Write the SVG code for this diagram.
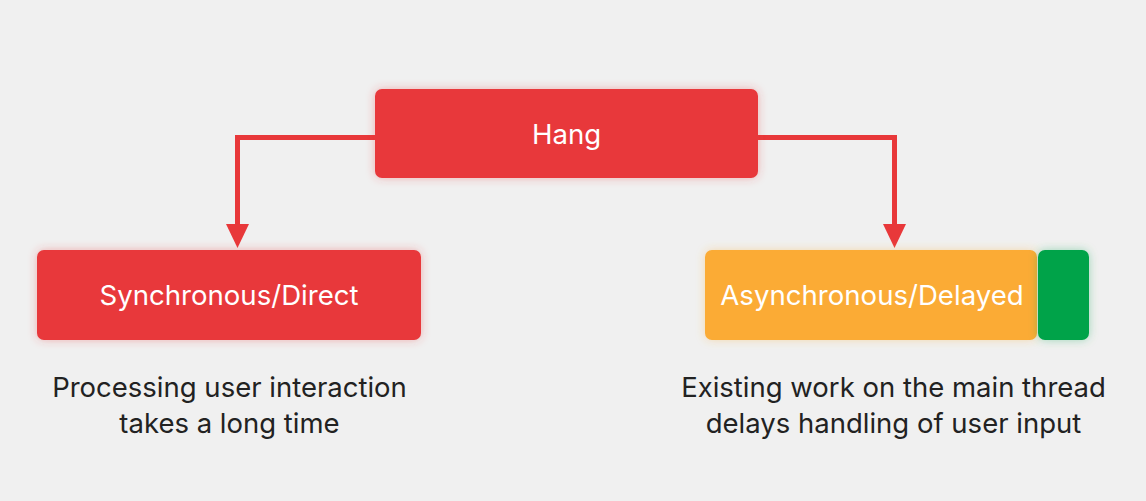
<svg xmlns="http://www.w3.org/2000/svg" width="1146" height="501" viewBox="0 0 1146 501">
  <defs>
    <filter id="glowRed" x="-20%" y="-40%" width="140%" height="180%">
      <feGaussianBlur in="SourceAlpha" stdDeviation="5" result="b"/>
      <feFlood flood-color="#e8383a" flood-opacity="0.35"/>
      <feComposite in2="b" operator="in" result="s"/>
      <feMerge><feMergeNode in="s"/><feMergeNode in="SourceGraphic"/></feMerge>
    </filter>
    <filter id="glowOrange" x="-20%" y="-40%" width="140%" height="180%">
      <feGaussianBlur in="SourceAlpha" stdDeviation="5" result="b"/>
      <feFlood flood-color="#fbab35" flood-opacity="0.35"/>
      <feComposite in2="b" operator="in" result="s"/>
      <feMerge><feMergeNode in="s"/><feMergeNode in="SourceGraphic"/></feMerge>
    </filter>
    <filter id="glowGreen" x="-60%" y="-40%" width="220%" height="180%">
      <feGaussianBlur in="SourceAlpha" stdDeviation="5" result="b"/>
      <feFlood flood-color="#00a34a" flood-opacity="0.35"/>
      <feComposite in2="b" operator="in" result="s"/>
      <feMerge><feMergeNode in="s"/><feMergeNode in="SourceGraphic"/></feMerge>
    </filter>
  </defs>
  <style>
    .lbl { font-family: Inter, "Liberation Sans", sans-serif; font-size: 27.6px; fill: #ffffff; text-anchor: middle; }
    .desc { font-family: Inter, "Liberation Sans", sans-serif; font-size: 27.5px; fill: #222222; text-anchor: middle; }
    .conn { fill: none; stroke: #e8383a; stroke-width: 5; }
    .head { fill: #e8383a; }
  </style>
  <rect width="1146" height="501" fill="#f0f0f0"/>
  <g id="connectors">
    <path class="conn" d="M375 137.5 H237.5 V226"/>
    <polygon class="head" points="226,224 249,224 237.5,248"/>
    <path class="conn" d="M758 137.5 H894.5 V226"/>
    <polygon class="head" points="883,224 906,224 894.5,248"/>
  </g>
  <g id="hang">
    <rect x="375" y="89" width="383" height="89" rx="7" fill="#e8383a" filter="url(#glowRed)"/>
    <text class="lbl" x="566.5" y="144">Hang</text>
  </g>
  <g id="sync">
    <rect x="37" y="250" width="384" height="90" rx="7" fill="#e8383a" filter="url(#glowRed)"/>
    <text class="lbl" x="229" y="305">Synchronous/Direct</text>
  </g>
  <g id="async">
    <rect x="705" y="250" width="332" height="90" rx="7" fill="#fbab35" filter="url(#glowOrange)"/>
    <text class="lbl" x="872" y="305">Asynchronous/Delayed</text>
  </g>
  <g id="green">
    <rect x="1038" y="250" width="51" height="90" rx="7" fill="#00a34a" filter="url(#glowGreen)"/>
  </g>
  <g id="sync-desc">
    <text class="desc" x="229.5" y="397">Processing user interaction</text>
    <text class="desc" x="229.5" y="433">takes a long time</text>
  </g>
  <g id="async-desc">
    <text class="desc" x="893.5" y="397">Existing work on the main thread</text>
    <text class="desc" x="893.5" y="433">delays handling of user input</text>
  </g>
</svg>
